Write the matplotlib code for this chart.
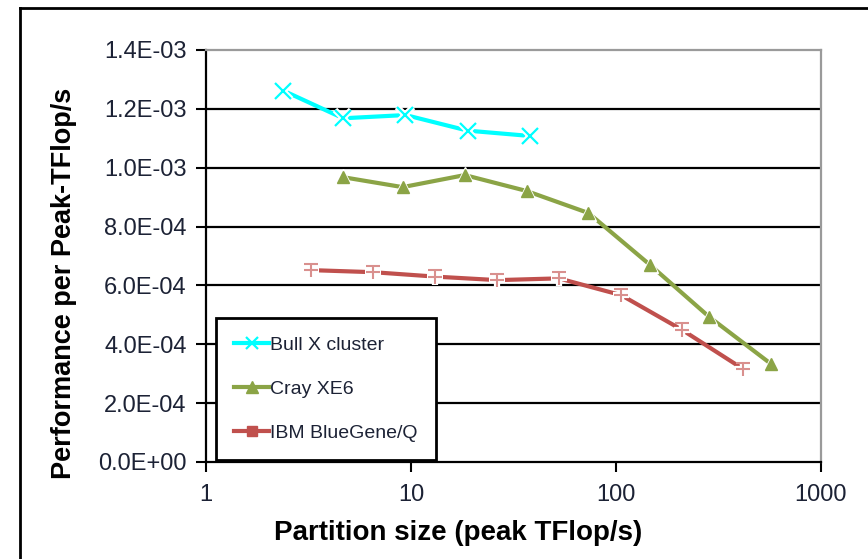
import matplotlib
matplotlib.use("Agg")
import matplotlib.pyplot as plt
from matplotlib.lines import Line2D
from matplotlib.ticker import FixedLocator, NullLocator

plt.rcParams['font.family'] = ['Liberation Sans', 'DejaVu Sans']

# Partition size (peak TFlop/s) and performance per peak TFlop/s
bull_x = [2.38, 4.67, 9.4, 18.9, 37.9]
bull_y = [1.262e-3, 1.168e-3, 1.179e-3, 1.126e-3, 1.108e-3]

cray_x = [4.65, 9.1, 18.3, 36.6, 73.4, 147, 285, 571]
cray_y = [9.68e-4, 9.34e-4, 9.75e-4, 9.21e-4, 8.46e-4, 6.69e-4, 4.93e-4, 3.33e-4]

ibm_x = [3.25, 6.53, 13.1, 26.4, 52.6, 106, 210, 417]
ibm_y = [6.52e-4, 6.45e-4, 6.30e-4, 6.18e-4, 6.24e-4, 5.67e-4, 4.49e-4, 3.16e-4]

y_ticks = [0, 2e-4, 4e-4, 6e-4, 8e-4, 1.0e-3, 1.2e-3, 1.4e-3]
y_labels = ['0.0E+00', '2.0E-04', '4.0E-04', '6.0E-04', '8.0E-04', '1.0E-03', '1.2E-03', '1.4E-03']
x_ticks = [1, 10, 100, 1000]
x_labels = ['1', '10', '100', '1000']

bull_col = '#00FFFF'
cray_col = '#8BA446'
ibm_col = '#C0504D'
ibm_mark = '#D9908E'
text_col = '#1c2235'

fig = plt.figure(figsize=(8.68, 5.59), dpi=100)
ax = fig.add_axes([206 / 868, 1 - 462 / 559, 615 / 868, 412 / 559])

# horizontal grid lines
for yv in y_ticks[1:-1]:
    ax.axhline(yv, color='black', lw=1.6, zorder=1)

# series: white halo under markers, then line + marker
ax.plot(bull_x, bull_y, color=bull_col, lw=3, zorder=3)
ax.plot(bull_x, bull_y, ls='none', marker='x', ms=12, mew=4.5, color='white', zorder=4)
ax.plot(bull_x, bull_y, ls='none', marker='x', ms=11, mew=1.6, color=bull_col, zorder=5)

ax.plot(cray_x, cray_y, color=cray_col, lw=3, zorder=3)
ax.plot(cray_x, cray_y, ls='none', marker='^', ms=12, color='white', zorder=4)
ax.plot(cray_x, cray_y, ls='none', marker='^', ms=9, color=cray_col, zorder=5)

ax.plot(ibm_x, ibm_y, color=ibm_col, lw=3, zorder=3)
ax.plot(ibm_x, ibm_y, ls='none', marker='+', ms=11, mew=4.5, color='white', zorder=4)
ax.plot(ibm_x, ibm_y, ls='none', marker='+', ms=10, mew=1.5, color=ibm_mark, zorder=5)
ax.plot(ibm_x, [v + 2.2e-5 for v in ibm_y], ls='none', marker='_', ms=10, mew=1.5,
        color=ibm_mark, zorder=5)

ax.set_xscale('log')
ax.set_xlim(1, 1000)
ax.set_ylim(0, 1.4e-3)
ax.xaxis.set_major_locator(FixedLocator(x_ticks))
ax.xaxis.set_minor_locator(NullLocator())
ax.set_xticklabels(x_labels)
ax.set_yticks(y_ticks)
ax.set_yticklabels(y_labels)
ax.tick_params(axis='both', direction='out', length=7, width=1.5, labelsize=17,
               labelcolor=text_col, pad=7)
ax.tick_params(axis='x', pad=9)

for side in ['left', 'bottom']:
    ax.spines[side].set_color('black')
    ax.spines[side].set_linewidth(1.6)
for side in ['top', 'right']:
    ax.spines[side].set_color('#9a9a9a')
    ax.spines[side].set_linewidth(1.6)

ax.set_xlabel('Partition size (peak TFlop/s)', fontsize=20, fontweight='bold')
ax.set_ylabel('Performance per Peak-TFlop/s', fontsize=19.5, fontweight='bold')
ax.xaxis.set_label_coords(0.41, -0.14)
ax.yaxis.set_label_coords(-0.21, 0.434)

handles = [
    Line2D([], [], color=bull_col, lw=3, marker='x', ms=8, mew=1.6),
    Line2D([], [], color=cray_col, lw=3, marker='^', ms=8),
    Line2D([], [], color=ibm_col, lw=3, marker='s', ms=7),
]
leg = ax.legend(handles, ['Bull X cluster', 'Cray XE6', 'IBM BlueGene/Q'],
                loc='lower left', bbox_to_anchor=(10 / 615, 2 / 412), fontsize=14,
                frameon=True, fancybox=False, edgecolor='black', framealpha=1,
                handlelength=1.8, handletextpad=0.05, labelspacing=1.35,
                borderpad=0.95, borderaxespad=0)
leg.get_frame().set_linewidth(2)
leg.set_zorder(6)
for t in leg.get_texts():
    t.set_color(text_col)

# outer frame of the pasted chart
fig.add_artist(Line2D([20 / 868, 20 / 868], [0, 1 - 8 / 559], color='black', lw=2,
                      transform=fig.transFigure))
fig.add_artist(Line2D([20 / 868, 1], [1 - 8 / 559, 1 - 8 / 559], color='black', lw=2,
                      transform=fig.transFigure))

fig.savefig('out.png', dpi=100)
